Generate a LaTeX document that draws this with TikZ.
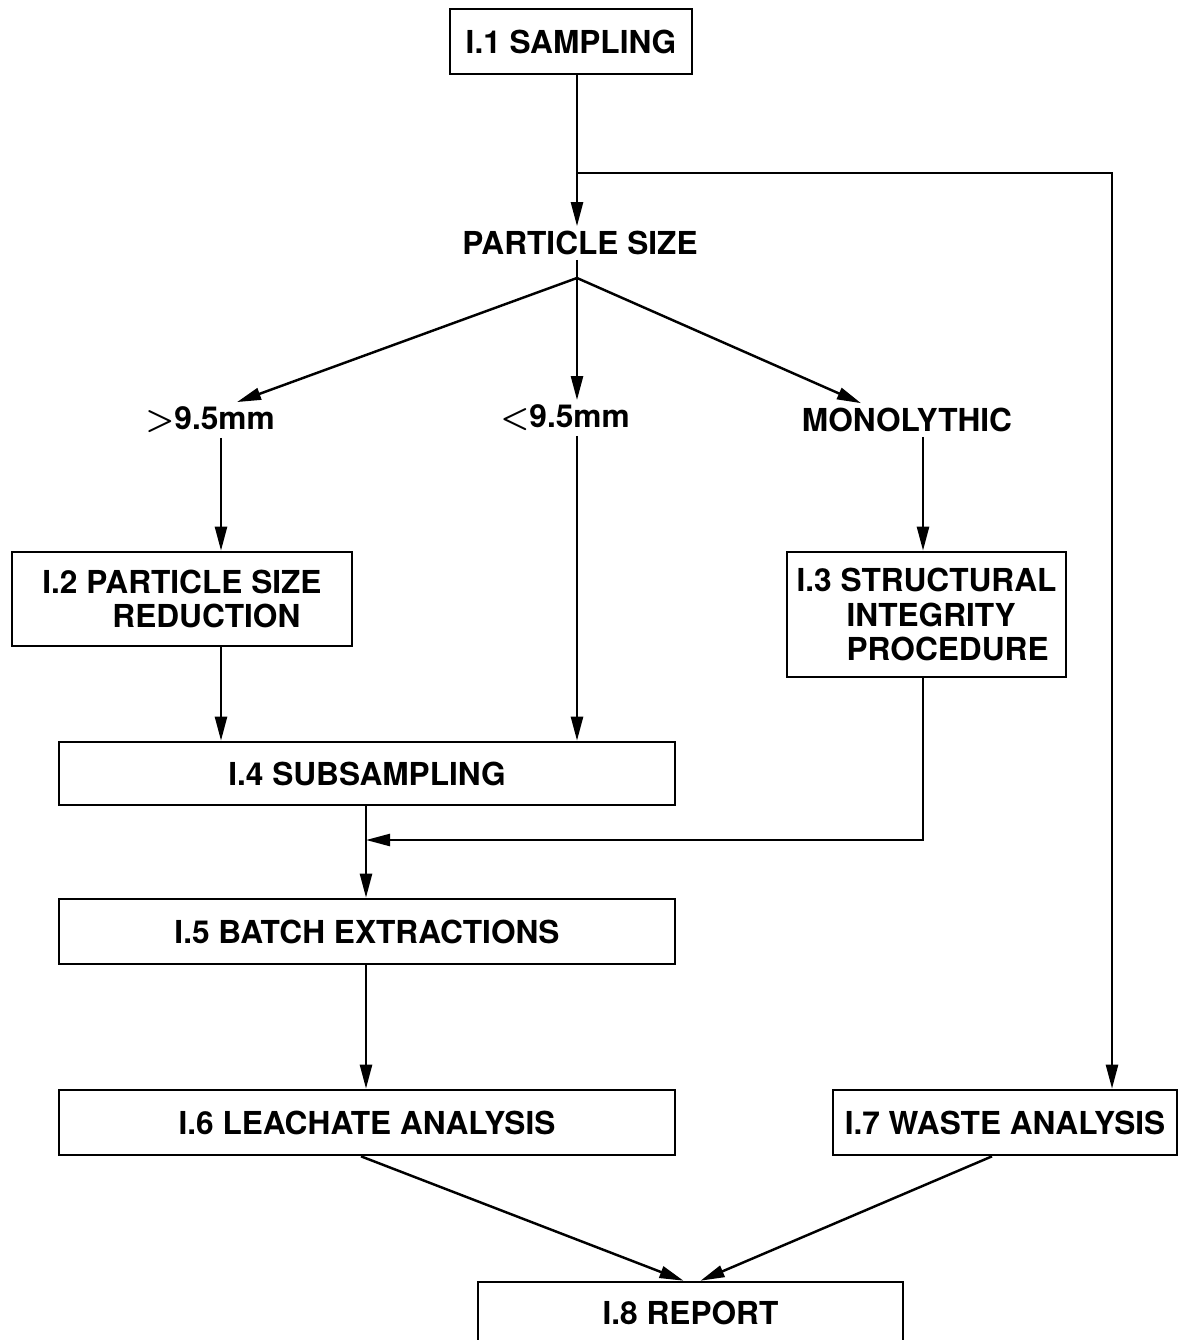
\documentclass[tikz,border=0pt]{standalone}
\usepackage{amsmath}
\usepackage{fontspec}
\setmainfont{TeX Gyre Heros}
\usetikzlibrary{arrows.meta, positioning, calc}

\begin{document}
\begin{tikzpicture}[
	procbox/.style={rectangle, draw, line width=.75pt, inner sep=0pt, align=center, font=\bfseries\fontsize{9}{9.7}\selectfont},
	sizelabel/.style={inner sep=1.2pt, font=\bfseries\fontsize{9}{9.7}\selectfont},
	arrow/.style={-{Triangle[length=2.4mm, width=1.2mm]}, line width=.7pt},
	plainline/.style={line width=.7pt}
	]
	\useasboundingbox (0,0) rectangle (11.81,-13.40);
	
	\node[procbox, minimum width=2.42cm, minimum height=.65cm] (sampling) at (5.71,-.415) {I.1 SAMPLING};
	\node[sizelabel] (psize) at (5.80,-2.43) {PARTICLE SIZE};
	\node[sizelabel] (coarse) at (2.10,-4.20) {$\boldsymbol{>}$9.5mm};
	\node[sizelabel] (fine) at (5.65,-4.18) {$\boldsymbol{<}$9.5mm};
	\node[sizelabel] (mono) at (9.07,-4.20) {MONOLYTHIC};
	\node[procbox, minimum width=3.40cm, minimum height=.94cm, align=left] (reduction) at (1.82,-5.99) {I.2 PARTICLE SIZE\\\hspace*{7mm}REDUCTION};
	\node[procbox, minimum width=2.79cm, minimum height=1.25cm, align=left] (integrity) at (9.265,-6.145) {I.3 STRUCTURAL\\\hspace*{5mm}INTEGRITY\\\hspace*{5mm}PROCEDURE};
	\node[procbox, minimum width=6.16cm, minimum height=.63cm] (subsampling) at (3.67,-7.735) {I.4 SUBSAMPLING};
	\node[procbox, minimum width=6.16cm, minimum height=.65cm] (batch) at (3.67,-9.315) {I.5 BATCH EXTRACTIONS};
	\node[procbox, minimum width=6.16cm, minimum height=.65cm] (leachate) at (3.67,-11.225) {I.6 LEACHATE ANALYSIS};
	\node[procbox, minimum width=3.44cm, minimum height=.65cm] (waste) at (10.05,-11.225) {I.7 WASTE ANALYSIS};
	\node[procbox, minimum width=4.25cm, minimum height=.62cm] (report) at (6.905,-13.13) {I.8 REPORT};
	
	% branch points and columns
	\coordinate (split) at (5.77,-1.73);
	\coordinate (fork) at (5.77,-2.78);
	\coordinate (join) at (3.66,-8.40);
	\coordinate (colA) at (2.21,0);
	\coordinate (colC) at (9.23,0);
	\coordinate (colE) at (11.12,0);
	
	\draw[arrow] (sampling.south -| split) -- (psize.north -| split);
	\draw[arrow] (split) -| (waste.north -| colE);
	\draw[plainline] (psize.south -| fork) -- (fork);
	\draw[arrow] (fork) -- ([xshift=.27cm]coarse.north);
	\draw[arrow] (fork) -- (fine.north -| fork);
	\draw[arrow] (fork) -- ([xshift=-.46cm]mono.north);
	
	\draw[arrow] (coarse.south -| colA) -- (reduction.north -| colA);
	\draw[arrow] (reduction.south -| colA) -- (subsampling.north -| colA);
	\draw[arrow] (fine.south -| fork) -- (subsampling.north -| fork);
	\draw[arrow] (mono.south -| colC) -- (integrity.north -| colC);
	\draw[arrow] (integrity.south -| colC) |- (join);
	
	\draw[arrow] (subsampling.south -| join) -- (batch.north -| join);
	\draw[arrow] (batch.south -| join) -- (leachate.north -| join);
	\draw[arrow] ([xshift=-.06cm]leachate.south) -- ([xshift=-.07cm]report.north);
	\draw[arrow] ([xshift=-.13cm]waste.south) -- ([xshift=.1cm]report.north);
\end{tikzpicture}
\end{document}
